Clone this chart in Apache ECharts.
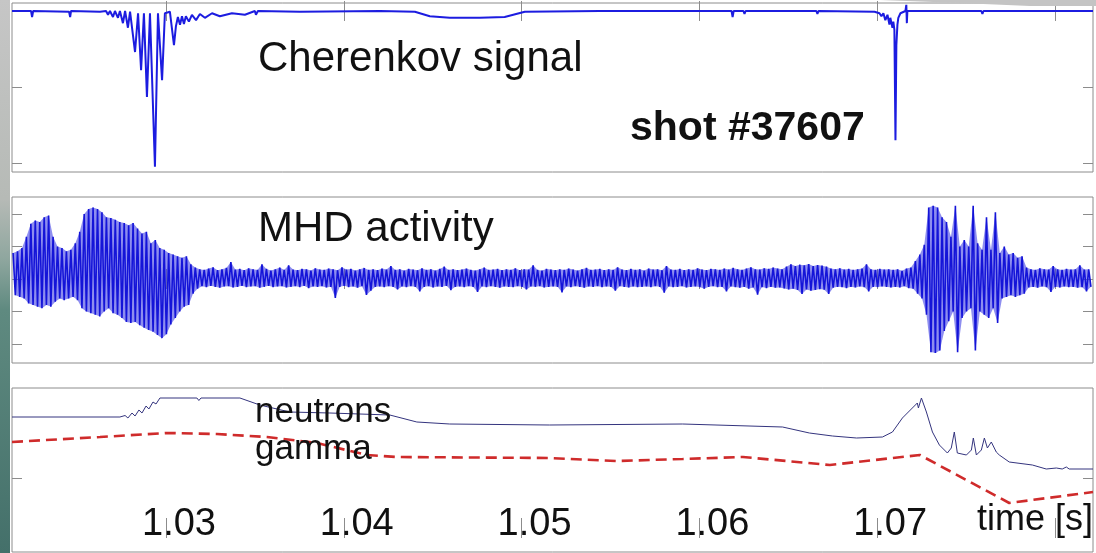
<!DOCTYPE html>
<html><head><meta charset="utf-8">
<script src="https://cdn.jsdelivr.net/npm/echarts@6/dist/echarts.min.js"></script>
<style>html,body{margin:0;padding:0;background:#fff}#c{width:1096px;height:553px}</style>
</head><body><div id="c"></div>
<script>
// ---------- data ----------
const tickTimes = [1.03, 1.04, 1.05, 1.06, 1.07, 1.08];
const tickLabels = ['1.03', '1.04', '1.05', '1.06', '1.07'];
const panelTitles = ['Cherenkov signal', 'MHD activity', 'neutrons', 'gamma'];
const shotLabel = 'shot #37607';
const axisTitle = 'time [s]';

// Cherenkov signal [time s, amplitude a.u.]
const cherenkov = [
  [1.02134,0],[1.02241,0],[1.02247,-0.08],[1.02253,0],[1.02455,-0.01],[1.02461,-0.08],[1.02466,0],
  [1.02629,-0.01],[1.02663,0],[1.02674,-0.05],[1.02685,0],[1.02702,-0.08],[1.02713,0],[1.02730,-0.09],
  [1.02741,0],[1.02758,-0.16],[1.02770,0],[1.02786,-0.22],[1.02798,-0.01],[1.02809,-0.01],[1.02826,-0.54],
  [1.02843,-0.03],[1.02860,-0.78],[1.02876,-0.03],[1.02893,-1.13],[1.02910,-0.03],[1.02938,-2.05],
  [1.02955,-0.03],[1.02978,-0.91],[1.02994,-0.03],[1.03022,-0.01],[1.03045,-0.45],[1.03056,-0.20],
  [1.03067,-0.08],[1.03079,-0.18],[1.03090,-0.07],[1.03101,-0.17],[1.03112,-0.07],[1.03129,-0.14],
  [1.03146,-0.05],[1.03169,-0.12],[1.03191,-0.04],[1.03219,-0.09],[1.03259,-0.03],[1.03303,-0.07],
  [1.03371,-0.03],[1.03444,-0.05],[1.03500,0],[1.03506,-0.05],[1.03517,0],[1.03753,-0.01],[1.04203,0],
  [1.04400,-0.01],[1.04484,-0.07],[1.04596,-0.09],[1.04765,-0.09],[1.04905,-0.08],[1.05018,-0.01],
  [1.05439,0],[1.06181,0],[1.06187,-0.08],[1.06193,0],[1.06248,0],[1.06254,-0.04],[1.06260,0],
  [1.06658,0],[1.06664,-0.04],[1.06670,0],[1.06985,-0.01],[1.07013,-0.03],[1.07024,-0.07],[1.07035,-0.03],
  [1.07046,-0.12],[1.07058,-0.05],[1.07069,-0.18],[1.07074,-0.09],[1.07086,-0.22],[1.07091,-0.14],
  [1.07097,-0.25],[1.07103,-1.70],[1.07108,-0.45],[1.07114,-0.18],[1.07119,-0.09],[1.07131,-0.03],
  [1.07159,0],[1.07164,0.08],[1.07167,-0.16],[1.07170,0],[1.07586,0],[1.07592,-0.04],[1.07598,0],
  [1.08214,0]
];

// MHD activity: per 0.25 ms bin, upper and lower excursion (a.u.)
const mhdT0 = 1.0214;
const mhdDt = 0.00025;
const mhdHi = [
  0.80,0.85,0.95,1.30,1.70,1.80,1.75,1.90,1.95,1.30,
  1.00,0.95,0.85,0.90,1.10,1.45,2.00,2.15,2.20,2.15,
  2.05,1.90,1.88,1.82,1.75,1.72,1.65,1.72,1.55,1.40,
  1.45,1.10,1.20,0.95,0.90,0.80,0.75,0.70,0.65,0.70,
  0.45,0.35,
  0.30,0.28,0.32,0.36,0.27,0.30,0.34,0.52,0.29,0.31,
  0.27,0.33,0.30,0.28,0.45,0.31,0.26,0.30,0.35,0.28,
  0.42,0.29,0.27,0.31,0.30,0.26,0.33,0.29,0.28,0.32,
  0.30,0.27,0.36,0.29,0.31,0.26,0.30,0.34,0.28,0.30,
  0.27,0.32,0.29,0.40,0.28,0.30,0.26,0.31,0.29,0.27,
  0.33,0.28,0.30,0.26,0.31,0.38,0.28,0.30,0.27,0.29,
  0.32,0.28,0.26,0.30,0.35,0.28,0.29,0.31,0.27,0.30,
  0.28,0.33,0.27,0.30,0.29,0.42,0.28,0.26,0.31,0.29,
  0.27,0.30,0.28,0.32,0.29,0.26,0.30,0.34,0.28,0.29,
  0.31,0.27,0.30,0.28,0.36,0.29,0.27,0.31,0.28,0.30,
  0.26,0.32,0.29,0.30,0.27,0.40,0.29,0.28,0.31,0.27,
  0.30,0.28,0.33,0.29,0.27,0.31,0.30,0.28,0.32,0.29,
  0.34,0.30,0.28,0.32,0.36,0.30,0.29,0.33,0.31,0.35,
  0.32,0.30,0.38,0.45,0.40,0.44,0.42,0.46,0.40,0.43,
  0.41,0.38,0.32,0.30,0.33,0.29,0.31,0.28,0.30,0.32,
  0.45,0.30,0.28,0.31,0.29,0.30,0.28,
  0.30,0.25,0.32,0.35,0.55,0.75,1.05,2.20,2.25,2.20,
  1.90,1.75,1.30,2.25,1.00,1.20,1.00,2.25,1.10,0.90,
  1.90,0.90,2.05,0.80,1.00,0.75,0.80,0.65,0.70,
  0.35,0.30,0.28,0.33,0.30,0.29,0.40,0.30,0.28,0.31,
  0.29,0.30,0.42,0.29,0.30
];
const mhdLo = [
  -0.50,-0.55,-0.60,-0.75,-0.80,-0.85,-0.90,-0.80,-0.85,-0.70,
  -0.60,-0.65,-0.60,-0.55,-0.65,-0.90,-1.00,-1.05,-1.10,-1.15,
  -1.00,-0.90,-1.05,-1.10,-1.20,-1.32,-1.35,-1.32,-1.42,-1.50,
  -1.57,-1.62,-1.72,-1.82,-1.70,-1.40,-1.20,-1.00,-0.85,-0.80,
  -0.45,-0.30,
  -0.22,-0.25,-0.21,-0.24,-0.27,-0.23,-0.22,-0.26,-0.24,-0.21,
  -0.25,-0.23,-0.22,-0.27,-0.24,-0.21,-0.25,-0.23,-0.22,-0.26,
  -0.24,-0.22,-0.25,-0.21,-0.28,-0.23,-0.24,-0.22,-0.26,-0.24,
  -0.58,-0.24,-0.21,-0.25,-0.23,-0.27,-0.22,-0.49,-0.36,-0.24,
  -0.23,-0.25,-0.22,-0.24,-0.32,-0.23,-0.25,-0.22,-0.24,-0.38,
  -0.24,-0.22,-0.26,-0.23,-0.24,-0.21,-0.34,-0.24,-0.23,-0.25,
  -0.22,-0.24,-0.40,-0.23,-0.25,-0.22,-0.24,-0.27,-0.23,-0.24,
  -0.25,-0.22,-0.24,-0.32,-0.23,-0.24,-0.22,-0.26,-0.24,-0.23,
  -0.24,-0.41,-0.23,-0.25,-0.22,-0.24,-0.27,-0.23,-0.24,-0.22,
  -0.25,-0.23,-0.24,-0.36,-0.22,-0.24,-0.26,-0.23,-0.25,-0.24,
  -0.23,-0.25,-0.22,-0.24,-0.42,-0.23,-0.25,-0.24,-0.22,-0.26,
  -0.24,-0.23,-0.25,-0.30,-0.24,-0.22,-0.25,-0.24,-0.38,-0.23,
  -0.25,-0.27,-0.24,-0.30,-0.26,-0.48,-0.25,-0.28,-0.24,-0.27,
  -0.26,-0.29,-0.32,-0.30,-0.34,-0.46,-0.32,-0.36,-0.34,-0.31,
  -0.33,-0.46,-0.27,-0.24,-0.25,-0.28,-0.24,-0.26,-0.23,-0.25,
  -0.38,-0.24,-0.25,-0.23,-0.24,-0.26,-0.24,
  -0.26,-0.22,-0.28,-0.30,-0.45,-0.60,-1.10,-2.25,-2.28,-2.20,
  -1.60,-1.30,-1.00,-2.25,-1.20,-1.00,-0.90,-2.20,-1.00,-1.10,
  -1.20,-0.90,-1.35,-0.60,-0.55,-0.50,-0.55,-0.50,-0.45,
  -0.26,-0.24,-0.27,-0.23,-0.25,-0.40,-0.24,-0.26,-0.23,-0.25,
  -0.24,-0.27,-0.25,-0.38,-0.24
];

// neutrons and gamma [time s, a.u.]
const neutrons = [
  [1.02134,2.22],[1.02741,2.22],[1.02770,2.25],[1.02786,2.20],[1.02809,2.30],[1.02826,2.24],
  [1.02848,2.36],[1.02865,2.30],[1.02888,2.44],[1.02904,2.38],[1.02927,2.52],[1.02944,2.48],
  [1.02966,2.60],[1.03174,2.60],[1.03185,2.55],[1.03197,2.60],[1.03416,2.60],[1.03528,2.46],
  [1.03697,2.32],[1.03922,2.30],[1.04259,2.26],[1.04411,2.12],[1.04596,2.08],[1.05158,2.06],
  [1.05906,2.08],[1.06468,2.02],[1.06619,1.90],[1.06749,1.84],[1.06884,1.80],[1.07030,1.82],
  [1.07086,1.92],[1.07142,2.20],[1.07198,2.40],[1.07226,2.50],[1.07232,2.40],[1.07249,2.60],
  [1.07277,2.32],[1.07311,1.92],[1.07350,1.66],[1.07395,1.50],[1.07417,1.60],[1.07434,1.92],
  [1.07451,1.50],[1.07502,1.46],[1.07530,1.56],[1.07541,1.80],[1.07558,1.46],[1.07586,1.56],
  [1.07603,1.80],[1.07620,1.60],[1.07642,1.72],[1.07670,1.52],[1.07687,1.46],[1.07743,1.32],
  [1.07873,1.26],[1.07951,1.18],[1.08008,1.20],[1.08041,1.18],[1.08064,1.22],[1.08080,1.18],
  [1.08214,1.18]
];
const gamma = [
  [1.02134,1.72],[1.02629,1.82],[1.03006,1.90],[1.03287,1.88],[1.03568,1.82],[1.03849,1.70],
  [1.04130,1.46],[1.04298,1.42],[1.05158,1.40],[1.05535,1.34],[1.05906,1.38],[1.06245,1.42],
  [1.06734,1.26],[1.07240,1.46],[1.07743,0.50],[1.08214,0.72]
];

// ---------- build ----------
if (mhdHi.length !== mhdLo.length) throw new Error('mhd length mismatch ' + mhdHi.length + ' ' + mhdLo.length);
const mhd = [];
mhdHi.forEach((h, i) => {
  const t = mhdT0 + i * mhdDt;
  mhd.push([t, h]);
  mhd.push([t + mhdDt / 2, mhdLo[i]]);
});

const T_MIN = 1.02134, T_MAX = 1.08214;
const FONT = '"Liberation Sans", Arial, Helvetica, sans-serif';
const FRAME = '#8c8c8c';
const yRanges = [
  {min: -2.118, max: 0.105, ticks: [-2, -1, 0]},
  {min: -2.585, max: 2.523, ticks: [-2, -1, 0, 1, 2]},
  {min: -0.48, max: 2.8, ticks: [1]}
];
const tickStyle = {show: true, inside: true, length: 10, lineStyle: {color: FRAME, width: 1}};

const grids = [
  {left: 12, top: 3, width: 1081, height: 169},
  {left: 12, top: 197, width: 1081, height: 166},
  {left: 12, top: 388, width: 1081, height: 164}
].map(g => Object.assign(g, {show: true, borderColor: FRAME, borderWidth: 1, backgroundColor: '#fff'}));

const xAxis = [], yAxis = [];
for (let g = 0; g < 3; g++) {
  ['bottom', 'top'].forEach(pos => {
    const withLabels = (g === 2 && pos === 'bottom');
    xAxis.push({
      type: 'value', gridIndex: g, position: pos, min: T_MIN, max: T_MAX,
      axisLine: {show: false}, splitLine: {show: false},
      axisTick: Object.assign({customValues: tickTimes}, tickStyle),
      axisLabel: withLabels ? {
        show: true, inside: true, customValues: tickTimes.slice(0, tickLabels.length),
        formatter: v => tickLabels[tickTimes.indexOf(+v.toFixed(2))] || '',
        fontFamily: FONT, fontSize: 38, color: '#111', margin: 8, padding: [0, 0, 0, 26]
      } : {show: false}
    });
  });
  ['left', 'right'].forEach(pos => {
    yAxis.push({
      type: 'value', gridIndex: g, position: pos, min: yRanges[g].min, max: yRanges[g].max,
      axisLine: {show: false}, splitLine: {show: false},
      axisTick: Object.assign({customValues: yRanges[g].ticks}, tickStyle),
      axisLabel: {show: false}
    });
  });
}

// envelope of the dense MHD trace as one polygon, placed through the axes
function renderMhdBand(params, api) {
  if (params.dataIndex !== 0) return;
  const top = [], bottom = [];
  mhdHi.forEach((h, i) => {
    const t = mhdT0 + i * mhdDt;
    top.push(api.coord([t, h]));
    bottom.push(api.coord([t + mhdDt / 2, mhdLo[i]]));
  });
  const cs = params.coordSys;
  return {
    type: 'polygon',
    shape: {points: top.concat(bottom.reverse())},
    style: {fill: '#3232e2', opacity: 0.55},
    clipPath: {type: 'rect', shape: {x: cs.x, y: cs.y, width: cs.width, height: cs.height}}
  };
}

function txt(text, left, baseline, size, weight) {
  return {
    type: 'text', x: left, y: baseline - 0.35 * size, z: 100,
    style: {text: text, x: 0, y: 0, fontFamily: FONT, fontSize: size, fontWeight: weight || 'normal',
            fill: '#111', align: 'left', verticalAlign: 'middle'}
  };
}

const chart = echarts.init(document.getElementById('c'), null, {renderer: 'canvas'});
chart.setOption({
  animation: false,
  backgroundColor: '#fff',
  grid: grids,
  xAxis: xAxis,
  yAxis: yAxis,
  series: [
    {name: panelTitles[0], type: 'line', xAxisIndex: 0, yAxisIndex: 0, data: cherenkov, showSymbol: false,
     lineStyle: {color: '#1c1ce0', width: 2}, clip: true},
    {name: 'mhd-envelope', type: 'custom', xAxisIndex: 2, yAxisIndex: 2, silent: true, z: 1,
     data: [[mhdT0, 0]], renderItem: renderMhdBand},
    {name: panelTitles[1], type: 'line', xAxisIndex: 2, yAxisIndex: 2, data: mhd, showSymbol: false,
     lineStyle: {color: '#1414d8', width: 1.6}, clip: true, z: 2},
    {name: panelTitles[2], type: 'line', xAxisIndex: 4, yAxisIndex: 4, data: neutrons, showSymbol: false,
     lineStyle: {color: '#34347e', width: 1}, clip: true},
    {name: panelTitles[3], type: 'line', xAxisIndex: 4, yAxisIndex: 4, data: gamma, showSymbol: false,
     lineStyle: {color: '#cf2b2b', width: 2.6, type: [11, 6]}, clip: true}
  ],
  graphic: [
    {type: 'rect', z: 0, shape: {x: 0, y: 0, width: 10, height: 553},
     style: {fill: new echarts.graphic.LinearGradient(0, 0, 0, 1, [
       {offset: 0, color: '#c6c6c6'}, {offset: 0.36, color: '#b6bab6'}, {offset: 0.47, color: '#8ea69e'},
       {offset: 0.56, color: '#5f8a80'}, {offset: 1, color: '#44706a'}])}},
    {type: 'polygon', z: 101, shape: {points: [[880, 0], [960, 3], [1030, 6], [1096, 6], [1096, 0]]},
     style: {fill: '#c4c4c4'}},
    txt(panelTitles[0], 258, 74, 42),
    txt(shotLabel, 630, 143, 41, 'bold'),
    txt(panelTitles[1], 258, 244, 42),
    txt(panelTitles[2], 255, 425, 35),
    txt(panelTitles[3], 255, 462, 35),
    txt(axisTitle, 977, 533, 36)
  ]
});
</script>
</body></html>
